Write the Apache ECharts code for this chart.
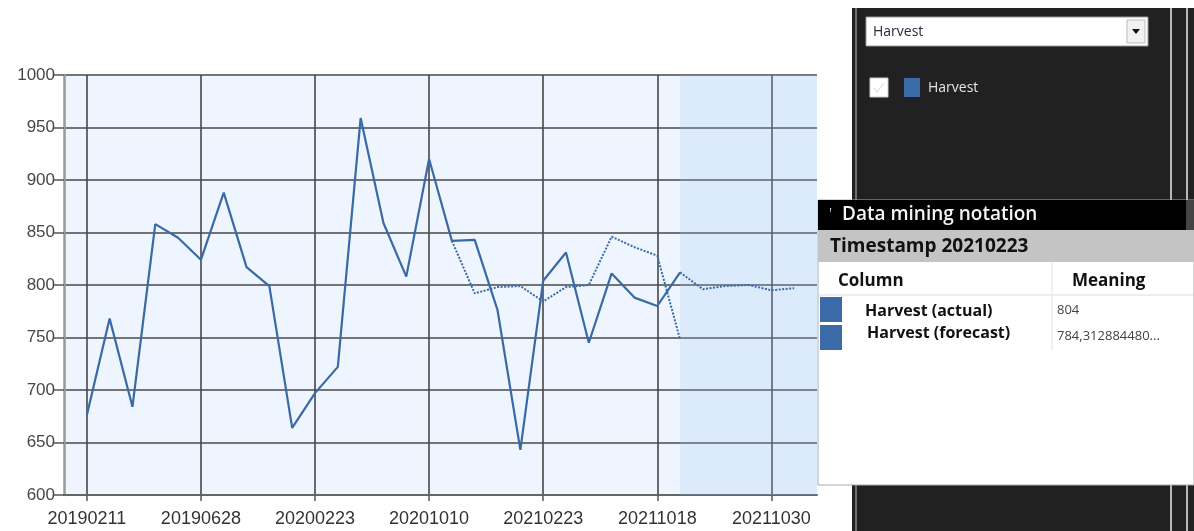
<!DOCTYPE html>
<html>
<head>
<meta charset="utf-8">
<script src="https://cdn.jsdelivr.net/npm/echarts@6/dist/echarts.min.js"></script>
<style>
  html, body { margin: 0; padding: 0; background: #fff; }
  #main { width: 1194px; height: 531px; }
</style>
</head>
<body>
<div id="main"></div>
<script>
// 数据
var xTickLabels = ['20190211', '20190628', '20200223', '20201010', '20210223', '20211018', '20211030'];
var tickStep = 5;

// 实际值（从序号0开始）
var actualStart = 0;
var actual = [676, 768, 684, 858, 845, 824, 888, 817, 799, 664, 697, 722, 959, 859, 808,
              920, 842, 843, 776, 643, 804, 831, 745, 811, 788, 780, 812];

// 历史预测（从序号16开始）
var pastForecastStart = 16;
var pastForecast = [842, 792, 798, 799, 784.31, 798, 800, 846, 836, 828, 748];

// 未来预测（从序号26开始）
var futureForecastStart = 26;
var futureForecast = [812, 796, 799, 800, 795, 797];

var yTicks = [600, 650, 700, 750, 800, 850, 900, 950, 1000];

function toPairs(start, arr) {
  return arr.map(function (v, i) { return [start + i, v]; });
}

var tickValues = xTickLabels.map(function (l, i) { return i * tickStep; });

var lineColor = '#3a6aa6';
var fontUi = '"Open Sans", "Noto Sans", sans-serif';

var myChart = echarts.init(document.getElementById('main'));

var option = {
  animation: false,
  grid: {
    left: 64, top: 75, right: 377, bottom: 36,
    show: true, backgroundColor: '#eef5fe', borderWidth: 0
  },
  xAxis: {
    type: 'value',
    min: -1,
    max: 32,
    axisLine: { show: true, onZero: false, lineStyle: { color: '#666', width: 2 } },
    axisTick: { show: true, customValues: tickValues, length: 6, lineStyle: { color: '#555', width: 1.5 } },
    axisLabel: {
      customValues: tickValues,
      color: '#333', fontSize: 18, fontFamily: 'Liberation Sans, Arial', margin: 15,
      formatter: function (v) { return xTickLabels[Math.round(v / tickStep)] || ''; }
    },
    splitLine: { show: true, lineStyle: { color: '#474747', width: 1.6 } }
  },
  yAxis: {
    type: 'value',
    min: yTicks[0],
    max: yTicks[yTicks.length - 1],
    interval: 50,
    axisLine: { show: true, onZero: false, lineStyle: { color: '#999', width: 2.5 } },
    axisTick: { show: true, length: 10, lineStyle: { color: '#555', width: 1.5 } },
    axisLabel: {
      color: '#484848', fontSize: 17, fontFamily: 'Liberation Sans, Arial', margin: 9,
      formatter: function (v) { return String(v); }
    },
    splitLine: { show: true, lineStyle: { color: '#474747', width: 1.6 } }
  },
  series: [
    {
      name: 'Harvest (actual)',
      type: 'line',
      data: toPairs(actualStart, actual),
      showSymbol: false,
      lineStyle: { color: lineColor, width: 2.2 },
      z: 3,
      markArea: {
        silent: true,
        itemStyle: { color: 'rgba(160,200,245,0.22)' },
        data: [[{ xAxis: futureForecastStart }, { xAxis: 32 }]]
      }
    },
    {
      name: 'Harvest (forecast)',
      type: 'line',
      data: toPairs(pastForecastStart, pastForecast),
      showSymbol: false,
      lineStyle: { color: lineColor, width: 2, type: [2, 1.5] },
      z: 2
    },
    {
      name: 'Harvest (forecast future)',
      type: 'line',
      data: toPairs(futureForecastStart, futureForecast),
      showSymbol: false,
      lineStyle: { color: lineColor, width: 2, type: [2, 1.5] },
      z: 2
    }
  ],
  graphic: [
    // 右侧深色面板
    { type: 'rect', shape: { x: 852, y: 8, width: 342, height: 523 }, style: { fill: '#212121' }, z: 10 },
    { type: 'line', shape: { x1: 856, y1: 8, x2: 856, y2: 531 }, style: { stroke: '#8a8a8a', lineWidth: 1.5 }, z: 11 },
    { type: 'line', shape: { x1: 1171, y1: 8, x2: 1171, y2: 531 }, style: { stroke: '#b8b8b8', lineWidth: 2 }, z: 11 },
    { type: 'line', shape: { x1: 1187, y1: 8, x2: 1187, y2: 531 }, style: { stroke: '#b8b8b8', lineWidth: 2 }, z: 11 },
    // 下拉框
    { type: 'rect', shape: { x: 866, y: 17, width: 282, height: 29 }, style: { fill: '#fff', stroke: '#999', lineWidth: 1 }, z: 12 },
    { type: 'text', x: 873, y: 32, style: { text: 'Harvest', fill: '#2a2a40', font: '14px ' + fontUi, textVerticalAlign: 'middle' }, z: 13 },
    { type: 'rect', shape: { x: 1127, y: 20, width: 18, height: 23 }, style: { fill: '#f2f2f2', stroke: '#bbb', lineWidth: 1 }, z: 13 },
    { type: 'polygon', shape: { points: [[1132, 29], [1140, 29], [1136, 34]] }, style: { fill: '#111' }, z: 14 },
    // 图例
    { type: 'rect', shape: { x: 870, y: 78, width: 18, height: 19 }, style: { fill: '#fff', stroke: '#ccc' }, z: 12 },
    { type: 'polyline', shape: { points: [[874, 88], [877, 92], [884, 83]] }, style: { stroke: '#ddd', lineWidth: 1.2, fill: null }, z: 13 },
    { type: 'rect', shape: { x: 904, y: 78, width: 16, height: 19 }, style: { fill: '#3a6aa8' }, z: 12 },
    { type: 'text', x: 928, y: 88, style: { text: 'Harvest', fill: '#e4e4e4', font: '14px ' + fontUi, textVerticalAlign: 'middle' }, z: 12 },
    // 数据挖掘注释面板
    { type: 'rect', shape: { x: 818, y: 200, width: 376, height: 285 }, style: { fill: '#fff', stroke: '#aaa', lineWidth: 1 }, z: 20 },
    { type: 'rect', shape: { x: 818, y: 200, width: 368, height: 30 }, style: { fill: '#000' }, z: 21 },
    { type: 'rect', shape: { x: 1186, y: 200, width: 8, height: 30 }, style: { fill: '#444' }, z: 21 },
    { type: 'text', x: 829, y: 214, style: { text: "'", fill: '#ccc', font: '14px ' + fontUi, textVerticalAlign: 'middle' }, z: 22 },
    { type: 'text', x: 842, y: 215, style: { text: 'Data mining notation', fill: '#f4f4f4', font: '600 19px ' + fontUi, textVerticalAlign: 'middle' }, z: 22 },
    { type: 'rect', shape: { x: 818, y: 230, width: 376, height: 32 }, style: { fill: '#c4c4c4' }, z: 21 },
    { type: 'text', x: 830, y: 247, style: { text: 'Timestamp 20210223', fill: '#111', font: 'bold 19px ' + fontUi, textVerticalAlign: 'middle' }, z: 22 },
    { type: 'line', shape: { x1: 818, y1: 295, x2: 1194, y2: 295 }, style: { stroke: '#ddd', lineWidth: 1 }, z: 21 },
    { type: 'line', shape: { x1: 1052, y1: 263, x2: 1052, y2: 350 }, style: { stroke: '#e2e2e2', lineWidth: 1 }, z: 21 },
    { type: 'text', x: 838, y: 281, style: { text: 'Column', fill: '#111', font: 'bold 17px ' + fontUi, textVerticalAlign: 'middle' }, z: 22 },
    { type: 'text', x: 1072, y: 281, style: { text: 'Meaning', fill: '#111', font: 'bold 17px ' + fontUi, textVerticalAlign: 'middle' }, z: 22 },
    { type: 'rect', shape: { x: 820, y: 297, width: 22, height: 25 }, style: { fill: '#3a6aa8' }, z: 22 },
    { type: 'rect', shape: { x: 820, y: 325, width: 22, height: 25 }, style: { fill: '#3a6aa8' }, z: 22 },
    { type: 'text', x: 865, y: 311, style: { text: 'Harvest (actual)', fill: '#111', font: 'bold 16px ' + fontUi, textVerticalAlign: 'middle' }, z: 22 },
    { type: 'text', x: 867, y: 333, style: { text: 'Harvest (forecast)', fill: '#111', font: 'bold 16px ' + fontUi, textVerticalAlign: 'middle' }, z: 22 },
    { type: 'text', x: 1057, y: 310, style: { text: '804', fill: '#444', font: '13px ' + fontUi, textVerticalAlign: 'middle' }, z: 22 },
    { type: 'text', x: 1057, y: 336, style: { text: '784,312884480...', fill: '#444', font: '13px ' + fontUi, textVerticalAlign: 'middle' }, z: 22 }
  ]
};

myChart.setOption(option);
</script>
</body>
</html>
